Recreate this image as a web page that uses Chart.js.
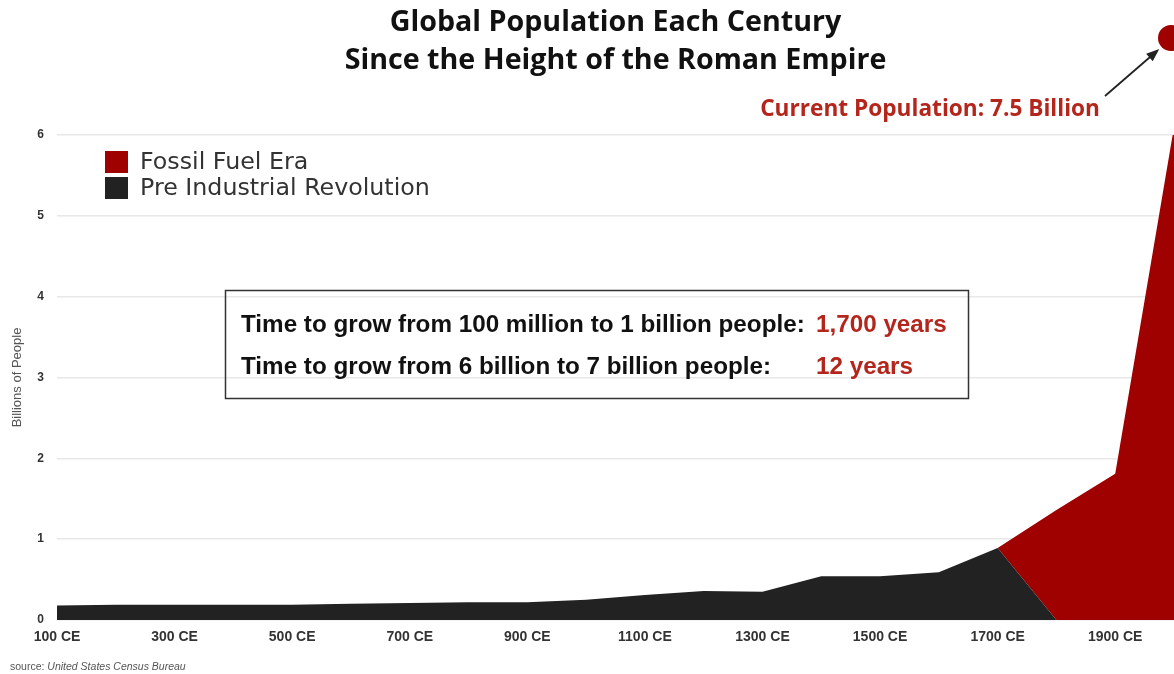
<!DOCTYPE html>
<html>
<head>
<meta charset="utf-8">
<script src="https://cdn.jsdelivr.net/npm/chart.js@4.4.1/dist/chart.umd.min.js"></script>
<style>
  html, body { margin: 0; padding: 0; background: #fff; }
  #wrap { width: 1174px; height: 674px; position: relative; }
</style>
</head>
<body>
<div id="wrap"><canvas id="c" width="1174" height="674"></canvas></div>
<script>
// ---- data (billions of people) ----
const centuries = ['100 CE','200 CE','300 CE','400 CE','500 CE','600 CE','700 CE','800 CE','900 CE','1000 CE',
                   '1100 CE','1200 CE','1300 CE','1400 CE','1500 CE','1600 CE','1700 CE','1800 CE','1900 CE','2000 CE'];
const preIndustrial = [0.18,0.19,0.19,0.19,0.19,0.20,0.21,0.22,0.22,0.25,0.31,0.36,0.35,0.54,0.54,0.59,0.89,0,0,0];
const fossilFuel    = [null,null,null,null,null,null,null,null,null,null,null,null,null,null,null,null,0.89,1.36,1.81,6.1];
const yTickValues = [0,1,2,3,4,5,6];
const seriesNames = ['Pre Industrial Revolution','Fossil Fuel Era'];
const currentPopulation = 7.5;
const boxLines = [
  ['Time to grow from 100 million to 1 billion people:', '1,700 years'],
  ['Time to grow from 6 billion to 7 billion people:', '12 years']
];
const titleLines = ['Global Population Each Century','Since the Height of the Roman Empire'];

const RED = '#9f0000';
const BLACK = '#222222';
const TEXT_RED = '#b4261c';

// font size that makes `text` span `target` pixels
function fitSize(ctx, text, weight, family, target) {
  ctx.font = weight + ' 100px ' + family;
  return 100 * target / ctx.measureText(text).width;
}

const overlay = {
  id: 'overlay',
  afterDraw(chart) {
    const ctx = chart.ctx;
    const ca = chart.chartArea;
    const xs = chart.scales.x, ys = chart.scales.y;
    ctx.save();
    // title
    const TF = '"Open Sans", sans-serif';
    const ts = fitSize(ctx, titleLines[1], '700', TF, 542);
    ctx.fillStyle = '#111';
    ctx.textAlign = 'center';
    ctx.textBaseline = 'middle';
    ctx.font = '700 ' + ts + 'px ' + TF;
    const cx = (ca.left + ca.right) / 2;
    ctx.fillText(titleLines[0], cx, 23);
    ctx.fillText(titleLines[1], cx, 61);

    // legend (fossil first)
    const LF = '"DejaVu Sans", sans-serif';
    const ds = chart.data.datasets;
    const legendItems = [ds[1], ds[0]];
    const ls = fitSize(ctx, legendItems[1].label, '400', LF, 290);
    ctx.textAlign = 'left';
    ctx.font = '400 ' + ls + 'px ' + LF;
    legendItems.forEach((d, i) => {
      const y = 162 + i * 26;
      ctx.fillStyle = d.backgroundColor;
      ctx.fillRect(105, y - 11, 23, 22);
      ctx.fillStyle = '#333';
      ctx.fillText(d.label, 140, y + 1);
    });

    // info box
    ctx.strokeStyle = '#333';
    ctx.lineWidth = 1.5;
    ctx.strokeRect(225.5, 290.5, 743, 108);
    const BF = '"Liberation Sans Narrow", "Arial Narrow", sans-serif';
    const bs = fitSize(ctx, boxLines[0][0], '700', BF, 564);
    ctx.font = '700 ' + bs + 'px ' + BF;
    boxLines.forEach((ln, i) => {
      const y = 325 + i * 42;
      ctx.fillStyle = '#111';
      ctx.fillText(ln[0], 241, y);
      ctx.fillStyle = TEXT_RED;
      ctx.fillText(ln[1], 816, y);
    });

    // current population annotation
    const cpText = 'Current Population: ' + currentPopulation + ' Billion';
    const cs = fitSize(ctx, cpText, '700', TF, 340);
    ctx.fillStyle = TEXT_RED;
    ctx.textAlign = 'right';
    ctx.font = '700 ' + cs + 'px ' + TF;
    ctx.fillText(cpText, 1100, 110);

    const dotX = xs.getPixelForValue(centuries.length - 1) - 3;
    const dotY = ys.getPixelForValue(7.2);
    // arrow
    const ax0 = 1105, ay0 = 96, ax1 = dotX - 14, ay1 = dotY + 13;
    ctx.strokeStyle = '#222';
    ctx.lineWidth = 1.8;
    ctx.beginPath(); ctx.moveTo(ax0, ay0); ctx.lineTo(ax1, ay1); ctx.stroke();
    const ang = Math.atan2(ay1 - ay0, ax1 - ax0);
    ctx.fillStyle = '#222';
    ctx.beginPath();
    ctx.moveTo(ax1 + 3 * Math.cos(ang), ay1 + 3 * Math.sin(ang));
    ctx.lineTo(ax1 - 10 * Math.cos(ang) + 5 * Math.sin(ang), ay1 - 10 * Math.sin(ang) - 5 * Math.cos(ang));
    ctx.lineTo(ax1 - 10 * Math.cos(ang) - 5 * Math.sin(ang), ay1 - 10 * Math.sin(ang) + 5 * Math.cos(ang));
    ctx.closePath(); ctx.fill();
    // dot
    ctx.fillStyle = RED;
    ctx.beginPath(); ctx.arc(dotX, dotY, 13, 0, Math.PI * 2); ctx.fill();

    // source
    ctx.textAlign = 'left';
    ctx.fillStyle = '#555';
    ctx.font = '400 10.5px "Liberation Sans", sans-serif';
    ctx.fillText('source: ', 10, 667);
    const w = ctx.measureText('source: ').width;
    ctx.font = 'italic 400 10.5px "Liberation Sans", sans-serif';
    ctx.fillText('United States Census Bureau', 10 + w, 667);
    ctx.restore();
  }
};

new Chart(document.getElementById('c'), {
  type: 'line',
  data: {
    labels: centuries,
    datasets: [
      { label: seriesNames[0], data: preIndustrial, backgroundColor: BLACK, borderWidth: 0,
        pointRadius: 0, fill: 'origin', tension: 0 },
      { label: seriesNames[1], data: fossilFuel, backgroundColor: RED, borderWidth: 0,
        pointRadius: 0, fill: '-1', tension: 0 }
    ]
  },
  options: {
    responsive: false,
    animation: false,
    layout: { padding: { top: 135, right: 0, bottom: 0, left: 0 } },
    plugins: { legend: { display: false }, tooltip: { enabled: false }, title: { display: false } },
    scales: {
      x: {
        type: 'category',
        offset: false,
        grid: { display: false, drawTicks: false },
        border: { display: false },
        ticks: {
          autoSkip: false, maxRotation: 0, padding: 9, color: '#333',
          font: { family: '"Liberation Sans Narrow", "Arial Narrow", sans-serif', weight: 'bold', size: 14 },
          callback: (v, i) => (i % 2 === 0 ? centuries[i] : '')
        },
        afterFit: (s) => { s.height = 54; s.paddingRight = 0; }
      },
      y: {
        min: 0, max: 6,
        afterBuildTicks: (s) => { s.ticks = yTickValues.map(v => ({ value: v })); },
        grid: { color: '#e8e8e8', lineWidth: 1.5, drawTicks: false },
        border: { display: false },
        ticks: { padding: 13, color: '#333',
          font: { family: '"Liberation Sans", sans-serif', weight: 'bold', size: 12 } },
        title: { display: true, text: 'Billions of People', color: '#555', padding: { top: 10, bottom: 0 },
          font: { family: '"Liberation Sans", sans-serif', size: 13 } },
        afterFit: (s) => { s.width = 57; s.paddingTop = 0; s.paddingBottom = 0; }
      }
    }
  },
  plugins: [overlay]
});
</script>
</body>
</html>
